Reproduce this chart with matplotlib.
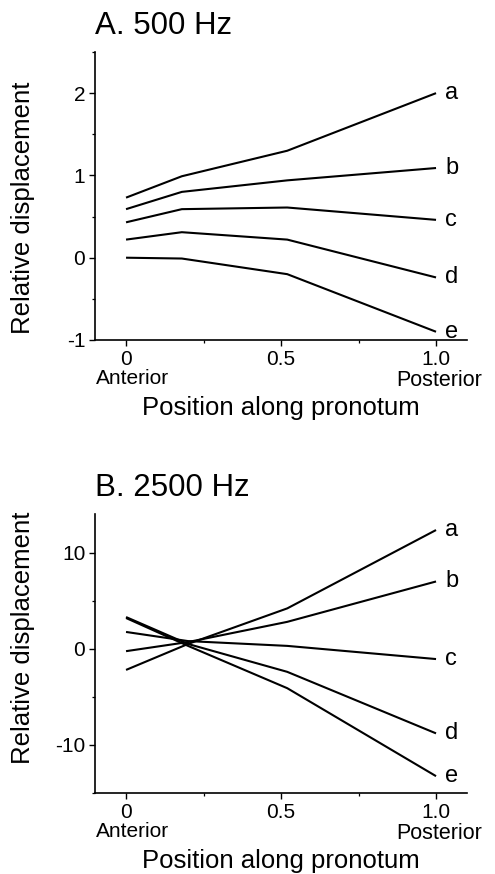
import numpy as np
import matplotlib
matplotlib.use("Agg")
import matplotlib.pyplot as plt
from matplotlib.ticker import MultipleLocator

plt.rcParams['font.family'] = ['Liberation Sans', 'DejaVu Sans']
plt.rcParams['axes.unicode_minus'] = False

# Panel A: 500 Hz
pos_a = [0.0, 0.18, 0.52, 1.0]
a_500 = [0.73, 0.99, 1.30, 2.00]
b_500 = [0.59, 0.80, 0.94, 1.09]
c_500 = [0.43, 0.59, 0.61, 0.46]
d_500 = [0.22, 0.31, 0.22, -0.24]
e_500 = [0.00, -0.01, -0.20, -0.90]

# Panel B: 2500 Hz
pos_b = [0.0, 0.20, 0.52, 1.0]
a_2500 = [-2.2, 0.5, 4.2, 12.35]
b_2500 = [-0.25, 0.7, 2.8, 7.0]
c_2500 = [1.75, 0.8, 0.3, -1.07]
d_2500 = [3.3, 0.5, -2.4, -8.8]
e_2500 = [3.2, 0.3, -4.1, -13.25]

curve_names = ['a', 'b', 'c', 'd', 'e']
xtick_vals = [0, 0.5, 1.0]
xtick_text = ['0', '0.5', '1.0']

fig = plt.figure(figsize=(4.95, 8.74), dpi=100)
ax_a = fig.add_axes([0.192, 0.611, 0.7515, 0.3295])
ax_b = fig.add_axes([0.192, 0.0927, 0.7515, 0.319])


def style_panel(ax, title, ylim, major, minor, ylab_y):
    for side in ['top', 'right']:
        ax.spines[side].set_visible(False)
    for side in ['left', 'bottom']:
        ax.spines[side].set_linewidth(1.2)
    ax.set_xlim(-0.1, 1.1)
    ax.set_ylim(*ylim)
    ax.set_xticks(xtick_vals)
    ax.set_xticklabels(xtick_text)
    ax.xaxis.set_minor_locator(MultipleLocator(0.25))
    ax.yaxis.set_major_locator(MultipleLocator(major))
    ax.yaxis.set_minor_locator(MultipleLocator(minor))
    ax.tick_params(which='major', direction='out', length=4.5, width=1.0,
                   labelsize=15, pad=2.5)
    ax.tick_params(which='minor', direction='out', length=2.5, width=0.9)
    ax.annotate(title, xy=(0, 1), xycoords='axes fraction',
                xytext=(0, 13), textcoords='offset points',
                ha='left', va='baseline', fontsize=22.5)
    ax.annotate('Anterior', xy=(0.02, 0), xycoords=('data', 'axes fraction'),
                xytext=(0, -27.5), textcoords='offset points',
                ha='center', va='center', fontsize=15)
    ax.annotate('Posterior', xy=(1.01, 0), xycoords=('data', 'axes fraction'),
                xytext=(0, -29), textcoords='offset points',
                ha='center', va='center', fontsize=15.5)
    ax.annotate('Position along pronotum', xy=(0.5, 0), xycoords=('data', 'axes fraction'),
                xytext=(0, -49), textcoords='offset points',
                ha='center', va='center', fontsize=18.5)
    fig.text(23 / 495, ylab_y, 'Relative displacement', rotation=90,
             ha='center', va='center', fontsize=18.5)


style_panel(ax_a, 'A. 500 Hz', (-1, 2.5), 1, 0.5, 1 - 207.5 / 874)
style_panel(ax_b, 'B. 2500 Hz', (-15, 14), 10, 5, 1 - 637.5 / 874)

for ax, xs, series in [(ax_a, pos_a, [a_500, b_500, c_500, d_500, e_500]),
                       (ax_b, pos_b, [a_2500, b_2500, c_2500, d_2500, e_2500])]:
    for name, ys in zip(curve_names, series):
        ax.plot(xs, ys, color='black', linewidth=1.5, solid_capstyle='butt')
        ax.text(1.03, ys[-1], name, ha='left', va='center', fontsize=17)

fig.savefig('out.png', dpi=100)
